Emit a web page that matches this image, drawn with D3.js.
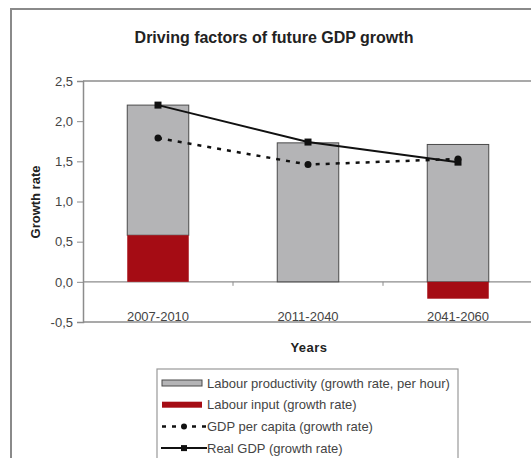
<!DOCTYPE html>
<html>
<head>
<meta charset="utf-8">
<script src="https://cdn.jsdelivr.net/npm/d3@7"></script>
<style>
  body { margin: 0; background: #fff; }
  svg { display: block; font-family: "Liberation Sans", Arial, sans-serif; }
</style>
</head>
<body>
<div class="chart"></div>
<script>
const periods = ['2007-2010', '2011-2040', '2041-2060'];
const labourProductivity = [1.62, 1.73, 1.71];
const labourInput = [0.58, 0, -0.21];
const gdpPerCapita = [1.79, 1.46, 1.53];
const realGdp = [2.2, 1.74, 1.49];
const yTicks = [-0.5, 0, 0.5, 1, 1.5, 2, 2.5];
const legendLabels = [
  'Labour productivity (growth rate, per hour)',
  'Labour input (growth rate)',
  'GDP per capita (growth rate)',
  'Real GDP (growth rate)'
];

const width = 531, height = 458;
const plot = { left: 83, right: 533, top: 81, bottom: 322 };

const svg = d3.select('.chart')
  .append('svg')
  .attr('width', width)
  .attr('height', height);

// outer frame (cropped on the right / bottom like the original)
svg.append('rect')
  .attr('x', 11).attr('y', 9)
  .attr('width', 540).attr('height', 470)
  .attr('fill', 'none')
  .attr('stroke', '#8a8a8a')
  .attr('stroke-width', 2);

svg.append('text')
  .attr('x', 274).attr('y', 43)
  .attr('text-anchor', 'middle')
  .style('font-size', '16px')
  .style('font-weight', 'bold')
  .style('fill', '#222')
  .text('Driving factors of future GDP growth');

const xScale = d3.scaleBand()
  .domain(periods)
  .range([plot.left, plot.right])
  .paddingInner(0)
  .paddingOuter(0);

const yScale = d3.scaleLinear()
  .domain([-0.5, 2.5])
  .range([plot.bottom, plot.top]);

const barW = xScale.bandwidth() * 0.41;
const cx = d => xScale(d) + xScale.bandwidth() / 2;

// plot area top / bottom border (right side is cropped away)
svg.selectAll('.frame-line')
  .data([plot.top, plot.bottom])
  .enter()
  .append('line')
  .attr('x1', plot.left).attr('x2', width + 5)
  .attr('y1', d => d).attr('y2', d => d)
  .attr('stroke', '#8c8c8c')
  .attr('stroke-width', 1.5);

// y axis
const yAxis = d3.axisLeft(yScale)
  .tickValues(yTicks)
  .tickSize(6)
  .tickPadding(4)
  .tickFormat(d => d3.format('.1f')(d).replace('.', ',').replace('−', '-'));

const yG = svg.append('g')
  .attr('transform', `translate(${plot.left}, 0)`)
  .call(yAxis);
yG.select('.domain').attr('stroke', '#8c8c8c').attr('stroke-width', 1.5);
yG.selectAll('.tick line').attr('stroke', '#8c8c8c');
yG.selectAll('.tick text')
  .style('font-size', '13px')
  .style('fill', '#444')
  .style('font-family', '"Liberation Sans", Arial, sans-serif');

svg.append('text')
  .attr('transform', 'rotate(-90)')
  .attr('x', -202).attr('y', 40)
  .attr('text-anchor', 'middle')
  .style('font-size', '13px')
  .style('font-weight', 'bold')
  .style('fill', '#222')
  .text('Growth rate');

// zero line with category ticks
svg.append('line')
  .attr('x1', plot.left).attr('x2', width + 5)
  .attr('y1', yScale(0)).attr('y2', yScale(0))
  .attr('stroke', '#8c8c8c').attr('stroke-width', 1.2);

svg.selectAll('.cat-tick')
  .data(periods.slice(1))
  .enter()
  .append('line')
  .attr('x1', d => xScale(d)).attr('x2', d => xScale(d))
  .attr('y1', yScale(0)).attr('y2', yScale(0) + 4)
  .attr('stroke', '#8c8c8c');

svg.selectAll('.cat-label')
  .data(periods)
  .enter()
  .append('text')
  .attr('x', d => cx(d))
  .attr('y', 321)
  .attr('text-anchor', 'middle')
  .style('font-size', '13px')
  .style('fill', '#444')
  .text(d => d);

svg.append('text')
  .attr('x', 309).attr('y', 352)
  .attr('text-anchor', 'middle')
  .style('font-size', '13px')
  .style('font-weight', 'bold')
  .style('letter-spacing', '0.5px')
  .style('fill', '#222')
  .text('Years');

// stacked bars: labour input at base, productivity above (for positive input)
const bars = periods.map((p, i) => {
  const inp = labourInput[i];
  const base = Math.max(inp, 0);
  return { p, prod0: base, prod1: base + labourProductivity[i], inp };
});

svg.selectAll('.bar-prod')
  .data(bars)
  .enter()
  .append('rect')
  .attr('x', d => cx(d.p) - barW / 2)
  .attr('width', barW)
  .attr('y', d => yScale(d.prod1))
  .attr('height', d => yScale(d.prod0) - yScale(d.prod1))
  .attr('fill', '#b4b4b6')
  .attr('stroke', '#4a4a4a')
  .attr('stroke-width', 1);

svg.selectAll('.bar-inp')
  .data(bars.filter(d => d.inp !== 0))
  .enter()
  .append('rect')
  .attr('x', d => cx(d.p) - barW / 2)
  .attr('width', barW)
  .attr('y', d => yScale(Math.max(d.inp, 0)))
  .attr('height', d => Math.abs(yScale(d.inp) - yScale(0)))
  .attr('fill', '#a50c14');

// lines
const line = d3.line()
  .x((d, i) => cx(periods[i]))
  .y(d => yScale(d));

svg.append('path')
  .datum(gdpPerCapita)
  .attr('d', line)
  .attr('fill', 'none')
  .attr('stroke', '#111')
  .attr('stroke-width', 2.5)
  .attr('stroke-dasharray', '4,6');

svg.selectAll('.pc-pt')
  .data(gdpPerCapita)
  .enter()
  .append('circle')
  .attr('cx', (d, i) => cx(periods[i]))
  .attr('cy', d => yScale(d))
  .attr('r', 3.5)
  .attr('fill', '#111');

svg.append('path')
  .datum(realGdp)
  .attr('d', line)
  .attr('fill', 'none')
  .attr('stroke', '#111')
  .attr('stroke-width', 2);

svg.selectAll('.gdp-pt')
  .data(realGdp)
  .enter()
  .append('rect')
  .attr('x', (d, i) => cx(periods[i]) - 3.5)
  .attr('y', d => yScale(d) - 3.5)
  .attr('width', 7).attr('height', 7)
  .attr('fill', '#111');

// legend
const legend = svg.append('g');
legend.append('rect')
  .attr('x', 157).attr('y', 369)
  .attr('width', 301).attr('height', 100)
  .attr('fill', '#fff')
  .attr('stroke', '#999')
  .attr('stroke-width', 1.2);

const rowY = i => 383 + i * 21.7;

legend.append('rect')
  .attr('x', 162).attr('y', rowY(0) - 3)
  .attr('width', 40).attr('height', 6)
  .attr('fill', '#b4b4b6').attr('stroke', '#4a4a4a');
legend.append('rect')
  .attr('x', 162).attr('y', rowY(1) - 3)
  .attr('width', 40).attr('height', 6)
  .attr('fill', '#a50c14');
legend.append('line')
  .attr('x1', 162).attr('x2', 206)
  .attr('y1', rowY(2)).attr('y2', rowY(2))
  .attr('stroke', '#111').attr('stroke-width', 2.5)
  .attr('stroke-dasharray', '4,6');
legend.append('circle')
  .attr('cx', 184).attr('cy', rowY(2)).attr('r', 3).attr('fill', '#111');
legend.append('line')
  .attr('x1', 161).attr('x2', 207)
  .attr('y1', rowY(3)).attr('y2', rowY(3))
  .attr('stroke', '#111').attr('stroke-width', 2);
legend.append('rect')
  .attr('x', 181).attr('y', rowY(3) - 3)
  .attr('width', 6).attr('height', 6).attr('fill', '#111');

legend.selectAll('.legend-label')
  .data(legendLabels)
  .enter()
  .append('text')
  .attr('x', 207)
  .attr('y', (d, i) => rowY(i) + 4.5)
  .style('font-size', '13px')
  .style('fill', '#444')
  .text(d => d);
</script>
</body>
</html>
